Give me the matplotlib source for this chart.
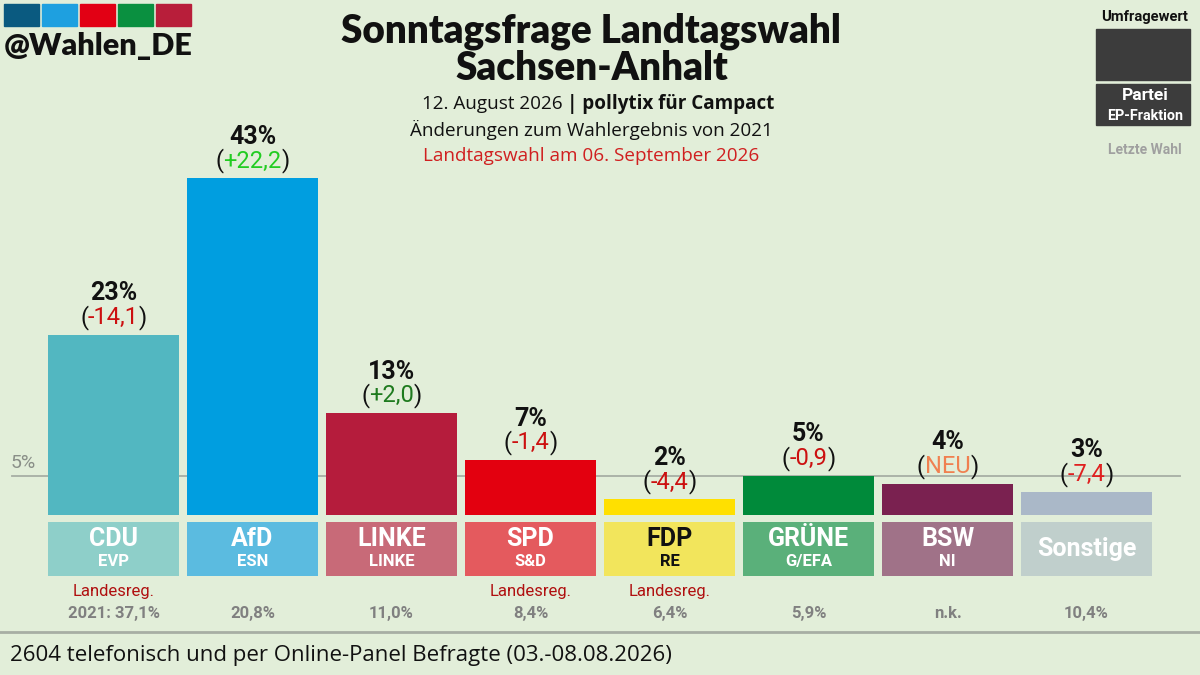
import matplotlib.pyplot as plt
from matplotlib.patches import Rectangle

# poll values
parties = ['CDU', 'AfD', 'LINKE', 'SPD', 'FDP', 'GRÜNE', 'BSW', 'Sonstige']
groups = ['EVP', 'ESN', 'LINKE', 'S&D', 'RE', 'G/EFA', 'NI', '']
values = [23, 43, 13, 7, 2, 5, 4, 3]
changes = ['-14,1', '+22,2', '+2,0', '-1,4', '-4,4', '-0,9', 'NEU', '-7,4']
last_vote = ['2021: 37,1%', '20,8%', '11,0%', '8,4%', '6,4%', '5,9%', 'n.k.', '10,4%']
in_govt = [True, False, False, True, True, False, False, False]

bar_colors = ['#52b7c1', '#009ee0', '#b51c3c', '#e3000f', '#ffe000', '#008a3a', '#7a2150', '#aab8c8']
box_colors = ['#8ecfc9', '#5bbbe0', '#c86a78', '#e45a5e', '#f2e55c', '#5ab07a', '#a07288', '#c0cfcc']
change_colors = ['#cc1010', '#22cc22', '#1e7a1e', '#cc1010', '#cc1010', '#cc1010', '#f08050', '#e02020']

BG = '#e2eed9'
plt.rcParams['font.family'] = ['Roboto', 'DejaVu Sans']

fig = plt.figure(figsize=(12, 6.75), dpi=100, facecolor=BG)

# pixel overlay for decoration
deco = fig.add_axes([0, 0, 1, 1], zorder=0)
deco.set_xlim(0, 1200)
deco.set_ylim(675, 0)
deco.axis('off')
deco.set_facecolor(BG)

# logo
logo = ['#0a5a80', '#1ea0e0', '#e20014', '#0a9040', '#b81e3a']
for k, c in enumerate(logo):
    deco.add_patch(Rectangle((4 + k * 38, 4), 35, 22, color=c))
deco.text(4, 46, '@Wahlen_DE', fontsize=22, fontweight='heavy', family='Lato',
          va='center', ha='left', color='#111111')

# titles
deco.text(591, 31, 'Sonntagsfrage Landtagswahl', fontsize=27.8, fontweight='heavy',
          family='Lato', ha='center', va='center', color='#111111')
deco.text(592, 68, 'Sachsen-Anhalt', fontsize=27.8, fontweight='heavy',
          family='Lato', ha='center', va='center', color='#111111')
deco.text(567, 104, '12. August 2026 ', fontsize=13.6, family='Open Sans',
          ha='right', va='center', color='#111111')
deco.text(567, 104, '| pollytix für Campact', fontsize=13.6, family='Open Sans',
          fontweight='bold', ha='left', va='center', color='#111111')
deco.text(591, 130, 'Änderungen zum Wahlergebnis von 2021', fontsize=13.6,
          family='Open Sans', ha='center', va='center', color='#111111')
deco.text(591, 156, 'Landtagswahl am 06. September 2026', fontsize=13.6,
          family='Open Sans', ha='center', va='center', color='#d02020')

# legend top right
deco.text(1145, 17, 'Umfragewert', fontsize=10.6, fontweight='bold', ha='center',
          va='center', color='#111111')
deco.add_patch(Rectangle((1096, 29), 94, 51, color='#3c3c3c'))
deco.add_patch(Rectangle((1096, 84), 94, 41, color='#3c3c3c'))
deco.text(1145, 96, 'Partei', fontsize=12.5, fontweight='bold', ha='center',
          va='center', color='white')
deco.text(1145, 116, 'EP-Fraktion', fontsize=10.4, fontweight='bold', ha='center',
          va='center', color='white')
deco.text(1145, 150, 'Letzte Wahl', fontsize=10, fontweight='bold', ha='center',
          va='center', color='#a0a0a0')

# footer
deco.plot([0, 1200], [632, 632], color='#a7aea4', lw=2)
deco.text(10, 655, '2604 telefonisch und per Online-Panel Befragte (03.-08.08.2026)',
          fontsize=16, family='Open Sans', ha='left', va='center', color='#111111')

# main chart
ax = fig.add_axes([0.03667, 0.0630, 0.92667, 0.7540], zorder=1)
ax.set_facecolor('none')
ax.set_xlim(-0.5, 7.5)
ax.set_ylim(-15, 50)
ax.axis('off')

x = list(range(len(parties)))
w = 0.942

# 5% threshold
ax.plot([-0.73, 7.67], [5, 5], color='#a7aea4', lw=1.3, clip_on=False, zorder=1)
ax.text(-0.65, 6.6, '5%', fontsize=14, color='#8a8f88', ha='center', va='center')

ax.bar(x, values, width=w, color=bar_colors, zorder=2)
ax.bar(x, 6.9, bottom=-7.79, width=w, color=box_colors, zorder=2)

for i in x:
    v = values[i]
    ax.annotate(f'{v}%', xy=(i, v), xytext=(0, 30), textcoords='offset points',
                ha='center', va='center', fontsize=18, fontweight='bold',
                color='#111111', zorder=3)
    t = ax.annotate(changes[i], xy=(i, v), xytext=(0, 12.5), textcoords='offset points',
                    ha='center', va='center', fontsize=17, color=change_colors[i], zorder=3)
    ax.annotate('(', xy=(0, 0.5), xycoords=t, ha='right', va='center',
                fontsize=17, color='#111111', zorder=3)
    ax.annotate(')', xy=(1, 0.5), xycoords=t, ha='left', va='center',
                fontsize=17, color='#111111', zorder=3)

    txt_col = '#111111' if parties[i] == 'FDP' else 'white'
    if groups[i]:
        ax.text(i, -3.1, parties[i], fontsize=18, fontweight='bold', color=txt_col,
                ha='center', va='center', zorder=3)
        ax.text(i, -5.9, groups[i], fontsize=12, fontweight='bold', color=txt_col,
                ha='center', va='center', zorder=3)
    else:
        ax.text(i, -4.34, parties[i], fontsize=18, fontweight='bold', color=txt_col,
                ha='center', va='center', zorder=3)

    if in_govt[i]:
        ax.text(i, -9.83, 'Landesreg.', fontsize=12, color='#b01010',
                ha='center', va='center')
    ax.text(i, -12.64, last_vote[i], fontsize=12, fontweight='bold', color='#808080',
            ha='center', va='center')

fig.savefig('out.png', dpi=100, facecolor=BG)
